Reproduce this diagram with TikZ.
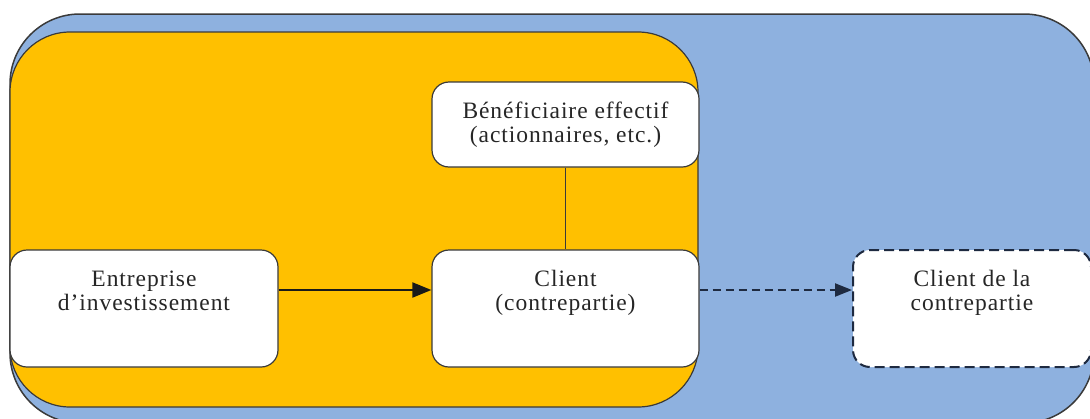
\documentclass[tikz,border=0pt]{standalone}
\usepackage{fontspec}
\setmainfont[LetterSpace=4]{Liberation Serif}
\usetikzlibrary{arrows.meta}
\definecolor{bluebg}{HTML}{8EB1DF}
\definecolor{goldbg}{HTML}{FFC000}
\definecolor{edgecol}{HTML}{3A3A3A}
\definecolor{navy}{HTML}{1E2A40}
\begin{document}
\begin{tikzpicture}[x=1pt,y=-1pt,
  txt/.style={font=\fontsize{23.5}{24}\selectfont, align=center, text=black!85},
  wbox/.style={draw=edgecol, line width=1.2pt, fill=white, rounded corners=17pt,
    minimum height=117pt, inner sep=0pt, txt},
  toplabel/.style={label={[txt, anchor=north, inner sep=0pt, yshift=-21pt]north:{#1}}},
  solidarrow/.style={draw=black!90, line width=2pt, -{Triangle[length=19pt,width=15pt]}},
  dasharrow/.style={draw=navy, line width=2.2pt, dash pattern=on 8pt off 5pt,
    -{Triangle[length=17pt,width=13pt]}},
  plainline/.style={draw=edgecol, line width=1.2pt}
]
\useasboundingbox (0,0) rectangle (1090,418);
% outer blue area
\draw[fill=bluebg, draw=edgecol, line width=1.5pt, rounded corners=70pt]
  (10,14) rectangle (1094,423);
% inner gold area
\draw[fill=goldbg, draw=edgecol, line width=1.2pt, rounded corners=60pt]
  (10,32) rectangle (698,407);
% boxes
\node[wbox, minimum width=268pt, toplabel={Entreprise\\d’investissement}] (ent) at (144,308.5) {};
\node[wbox, minimum width=267pt, toplabel={Client\\(contrepartie)}] (cli) at (565.5,308.5) {};
\node[wbox, minimum width=267pt, minimum height=85pt] (ben) at (565.5,124.5)
  {Bénéficiaire effectif\\(actionnaires, etc.)};
\node[wbox, draw=navy, line width=2pt, dash pattern=on 10pt off 5pt, minimum width=238pt,
  toplabel={Client de la\\contrepartie}] (cdc) at (972,308.5) {};
% connectors
\draw[plainline] (ben) -- (cli);
\draw[solidarrow] ([yshift=18.5pt]ent.east) -- ([yshift=18.5pt]cli.west);
\draw[dasharrow] ([yshift=18.5pt]cli.east) -- ([yshift=18.5pt]cdc.west);
\end{tikzpicture}
\end{document}
